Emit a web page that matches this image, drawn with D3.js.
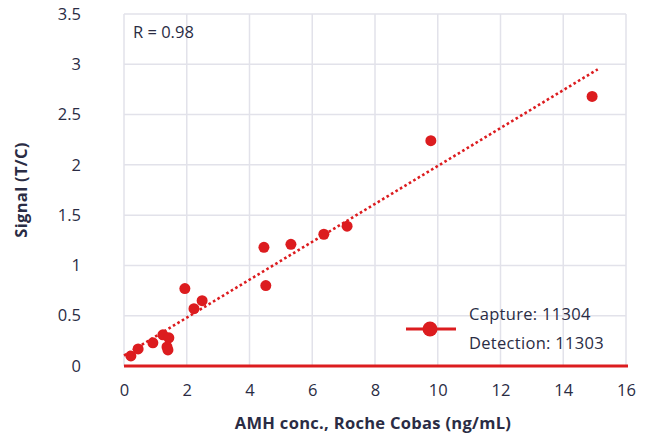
<!DOCTYPE html>
<html>
<head>
<meta charset="utf-8">
<script src="https://cdn.jsdelivr.net/npm/d3@7"></script>
<style>
  body { margin: 0; background: #fff; }
  text { font-family: "Open Sans", "Noto Sans", sans-serif; fill: #2a2c44; }
</style>
</head>
<body>
<svg id="chart" width="647" height="443"></svg>
<script>
// AMH conc. (ng/mL) vs signal
const amh = [0.22, 0.45, 0.92, 1.24, 1.43, 1.37, 1.40, 1.94, 2.23, 2.49, 4.46, 4.52, 5.32, 6.37, 7.11, 9.78, 14.92];
const signal = [0.10, 0.17, 0.23, 0.31, 0.28, 0.19, 0.16, 0.77, 0.57, 0.65, 1.18, 0.80, 1.21, 1.31, 1.39, 2.24, 2.68];
const xTicks = [0, 2, 4, 6, 8, 10, 12, 14, 16];
const yTicks = [0, 0.5, 1, 1.5, 2, 2.5, 3, 3.5];
const trendRange = [0, 15.1];
const legendLines = ["Capture: 11304", "Detection: 11303"];
const rLabel = "R = 0.98";

const red = "#dc1c1f";
const grid = "#e2e2ea";
const fontSize = 16.5;

let margin = {top: 14, right: 21, bottom: 77, left: 124};
let width = 647 - margin.left - margin.right;
let height = 443 - margin.top - margin.bottom;

let svg = d3.select("#chart")
    .append("g")
    .attr("transform", `translate(${margin.left},${margin.top})`);

let x = d3.scaleLinear().domain([0, 16]).range([0, width]);
let y = d3.scaleLinear().domain([0, 3.5]).range([height, 0]);

// gridlines
svg.append("g").selectAll("line").data(xTicks).join("line")
    .attr("x1", d => x(d)).attr("x2", d => x(d))
    .attr("y1", 0).attr("y2", height)
    .attr("stroke", grid).attr("stroke-width", 1.5);
svg.append("g").selectAll("line").data(yTicks.filter(d => d > 0)).join("line")
    .attr("x1", 0).attr("x2", width)
    .attr("y1", d => y(d)).attr("y2", d => y(d))
    .attr("stroke", grid).attr("stroke-width", 1.5);

// axes (labels only)
let xAxis = svg.append("g")
    .attr("transform", `translate(0,${height})`)
    .call(d3.axisBottom(x).tickValues(xTicks).tickSize(0).tickPadding(18).tickFormat(d3.format("d")));
let yAxis = svg.append("g")
    .call(d3.axisLeft(y).tickValues(yTicks).tickSize(0).tickPadding(43).tickFormat(d => String(d)));
[xAxis, yAxis].forEach(a => {
    a.select(".domain").remove();
    a.selectAll("text").attr("font-size", fontSize).attr("fill", "#2a2c44")
        .attr("font-family", "\"Open Sans\", sans-serif");
});

// red baseline
svg.append("line")
    .attr("x1", x(0)).attr("x2", x(16) + 2)
    .attr("y1", height).attr("y2", height)
    .attr("stroke", red).attr("stroke-width", 3);

// linear trendline from the data
let mx = d3.mean(amh), my = d3.mean(signal);
let sxy = d3.sum(amh, (d, i) => (d - mx) * (signal[i] - my));
let sxx = d3.sum(amh, d => (d - mx) * (d - mx));
let slope = sxy / sxx;
let intercept = my - slope * mx;

svg.append("path")
    .datum(trendRange)
    .attr("d", d3.line().x(d => x(d)).y(d => y(intercept + slope * d)))
    .attr("fill", "none")
    .attr("stroke", red)
    .attr("stroke-width", 2.6)
    .attr("stroke-dasharray", "2.6,2.6");

// points
svg.append("g").selectAll("circle").data(amh).join("circle")
    .attr("cx", d => x(d))
    .attr("cy", (d, i) => y(signal[i]))
    .attr("r", 5.5)
    .attr("fill", red);

// R label
svg.append("text")
    .attr("x", 9).attr("y", 24)
    .attr("font-size", fontSize)
    .text(rLabel);

// legend
let lg = svg.append("g").attr("transform", `translate(${282},${315})`);
lg.append("line").attr("x1", 0).attr("x2", 50).attr("y1", 0).attr("y2", 0)
    .attr("stroke", red).attr("stroke-width", 3);
lg.append("circle").attr("cx", 24).attr("cy", 0).attr("r", 7.5).attr("fill", red);
lg.selectAll("text.leg").data(legendLines).join("text")
    .attr("class", "leg")
    .attr("x", 63)
    .attr("y", (d, i) => -9 + i * 29)
    .attr("font-size", fontSize)
    .attr("letter-spacing", 0.3)
    .text(d => d);

// axis titles
svg.append("text")
    .attr("x", width / 2 - 2).attr("y", height + 63)
    .attr("text-anchor", "middle")
    .attr("font-size", 16.5).attr("font-weight", "bold")
    .attr("letter-spacing", 0.3)
    .text("AMH conc., Roche Cobas (ng/mL)");
svg.append("text")
    .attr("transform", `translate(${-97},${height / 2}) rotate(-90)`)
    .attr("text-anchor", "middle")
    .attr("font-size", 16.5).attr("font-weight", "bold")
    .attr("letter-spacing", 0.3)
    .text("Signal (T/C)");
</script>
</body>
</html>
